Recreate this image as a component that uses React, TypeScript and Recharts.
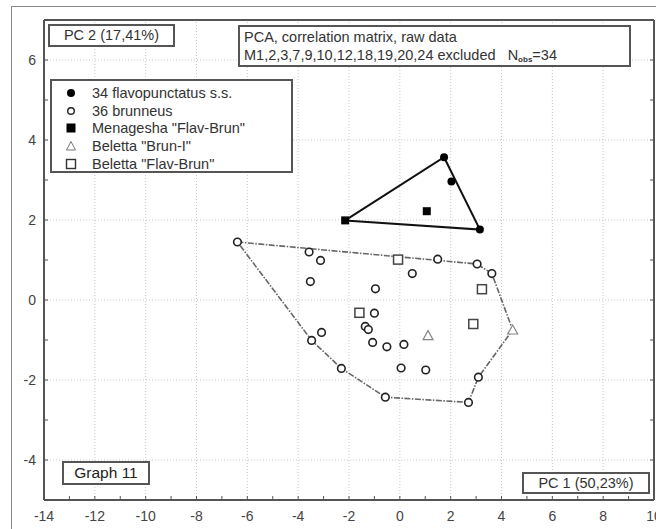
import React from "react";
import { ScatterChart, Scatter, XAxis, YAxis, ReferenceLine } from "recharts";

// PCA scores (PC 1, PC 2)
const flavo = [
  { x: 1.74, y: 3.57 },
  { x: 2.03, y: 2.96 },
  { x: 3.15, y: 1.76 },
];
const menagesha = [
  { x: -2.15, y: 1.99 },
  { x: 1.06, y: 2.22 },
];
const brunneus = [
  { x: -6.39, y: 1.45 },
  { x: -3.57, y: 1.2 },
  { x: -3.12, y: 0.99 },
  { x: -3.52, y: 0.46 },
  { x: -0.96, y: 0.28 },
  { x: 0.49, y: 0.66 },
  { x: 1.49, y: 1.02 },
  { x: 3.04, y: 0.9 },
  { x: 3.62, y: 0.66 },
  { x: -1.0, y: -0.33 },
  { x: -1.36, y: -0.66 },
  { x: -1.24, y: -0.74 },
  { x: -3.08, y: -0.81 },
  { x: -3.47, y: -1.01 },
  { x: -1.07, y: -1.06 },
  { x: -0.51, y: -1.17 },
  { x: 0.16, y: -1.11 },
  { x: -2.3, y: -1.71 },
  { x: 0.05, y: -1.7 },
  { x: 1.02, y: -1.75 },
  { x: 3.09, y: -1.93 },
  { x: -0.57, y: -2.43 },
  { x: 2.7, y: -2.56 },
];
const belettaBrunI = [
  { x: 1.11, y: -0.89 },
  { x: 4.44, y: -0.75 },
];
const belettaFlavBrun = [
  { x: -0.07, y: 1.01 },
  { x: 3.23, y: 0.27 },
  { x: -1.59, y: -0.32 },
  { x: 2.89, y: -0.6 },
];

// hull outlines
const flavoHull = [
  { x: -2.15, y: 1.99 },
  { x: 1.74, y: 3.57 },
  { x: 3.15, y: 1.76 },
  { x: -2.15, y: 1.99 },
];
const brunHull = [
  { x: -6.39, y: 1.45 },
  { x: 3.04, y: 0.9 },
  { x: 3.62, y: 0.66 },
  { x: 4.44, y: -0.75 },
  { x: 3.09, y: -1.93 },
  { x: 2.7, y: -2.56 },
  { x: -0.57, y: -2.43 },
  { x: -2.3, y: -1.71 },
  { x: -3.47, y: -1.01 },
  { x: -6.39, y: 1.45 },
];

const xMajor = [-14, -12, -10, -8, -6, -4, -2, 0, 2, 4, 6, 8, 10];
const yMajor = [-4, -2, 0, 2, 4, 6];
const xAll = [-14, -13, -12, -11, -10, -9, -8, -7, -6, -5, -4, -3, -2, -1, 0, 1, 2, 3, 4, 5, 6, 7, 8, 9, 10];
const yAll = [-5, -4, -3, -2, -1, 0, 1, 2, 3, 4, 5, 6, 7];

const legendItems = [
  { kind: "dot", label: "34 flavopunctatus s.s." },
  { kind: "ring", label: "36 brunneus" },
  { kind: "square", label: 'Menagesha "Flav-Brun"' },
  { kind: "tri", label: 'Beletta "Brun-I"' },
  { kind: "box", label: 'Beletta "Flav-Brun"' },
];

const FONT = '"Liberation Sans", Arial, sans-serif';
const AXIS = "#555";
const tickStyle = { fontSize: 14, fill: "#444", fontFamily: FONT };

const Dot = (p: any) => <circle cx={p.cx} cy={p.cy} r={4} fill="#000" />;
const Ring = (p: any) => <circle cx={p.cx} cy={p.cy} r={3.8} fill="#fff" stroke="#222" strokeWidth={1.6} />;
const Sq = (p: any) => <rect x={p.cx - 4} y={p.cy - 4} width={8} height={8} fill="#000" />;
const Box = (p: any) => <rect x={p.cx - 4.5} y={p.cy - 4.5} width={9} height={9} fill="#fff" stroke="#444" strokeWidth={1.5} />;
const Tri = (p: any) => (
  <polygon
    points={`${p.cx},${p.cy - 5} ${p.cx + 5},${p.cy + 4} ${p.cx - 5},${p.cy + 4}`}
    fill="#fff"
    stroke="#888"
    strokeWidth={1.2}
  />
);
const Nothing = () => <g />;

function LegendSymbol({ kind }: { kind: string }) {
  return (
    <svg width={12} height={12} style={{ display: "block" }}>
      {kind === "dot" && <circle cx={6} cy={6} r={4} fill="#000" />}
      {kind === "ring" && <circle cx={6} cy={6} r={3.3} fill="#fff" stroke="#222" strokeWidth={1.4} />}
      {kind === "square" && <rect x={1.5} y={1.5} width={9} height={9} fill="#000" />}
      {kind === "tri" && <polygon points="6,1.5 10.5,10 1.5,10" fill="#fff" stroke="#777" strokeWidth={1} />}
      {kind === "box" && <rect x={1.5} y={1.5} width={9} height={9} fill="#fff" stroke="#333" strokeWidth={1.4} />}
    </svg>
  );
}

const boxStyle: React.CSSProperties = {
  position: "absolute",
  border: "2px solid #555",
  background: "#fff",
  boxSizing: "border-box",
  fontFamily: FONT,
  color: "#333",
  fontSize: 14.5,
  whiteSpace: "nowrap",
};

export default function App() {
  return (
    <div
      style={{
        position: "fixed",
        left: 0,
        top: 0,
        width: 656,
        height: 529,
        overflow: "hidden",
        background: "#fff",
        fontFamily: FONT,
      }}
    >
      <div
        style={{
          position: "absolute",
          left: 11,
          top: 6,
          width: 700,
          height: 600,
          borderLeft: "1px solid #888",
          borderTop: "1px solid #888",
        }}
      />
      <ScatterChart width={656} height={529} margin={{ top: 19, right: 1, bottom: 0, left: 0 }}>
        <XAxis
          type="number"
          dataKey="x"
          domain={[-14, 10]}
          ticks={xAll}
          interval={0}
          tickFormatter={(v: number) => (v % 2 === 0 ? String(v) : "")}
          tick={tickStyle}
          tickSize={-4}
          tickMargin={15}
          height={29}
          axisLine={{ stroke: AXIS, strokeWidth: 2 }}
          tickLine={{ stroke: AXIS }}
          allowDataOverflow
        />
        <XAxis
          xAxisId="top"
          orientation="top"
          type="number"
          domain={[-14, 10]}
          ticks={xAll}
          interval={0}
          tickFormatter={() => ""}
          tickSize={-4}
          height={1}
          axisLine={{ stroke: AXIS, strokeWidth: 2 }}
          tickLine={{ stroke: AXIS }}
          allowDataOverflow
        />
        <YAxis
          type="number"
          dataKey="y"
          domain={[-5, 7]}
          ticks={yAll}
          interval={0}
          tickFormatter={(v: number) => (v % 2 === 0 ? String(v) : "")}
          tick={tickStyle}
          tickSize={-4}
          tickMargin={12}
          width={44}
          axisLine={{ stroke: AXIS, strokeWidth: 2 }}
          tickLine={{ stroke: AXIS }}
          allowDataOverflow
        />
        <YAxis
          yAxisId="right"
          orientation="right"
          type="number"
          domain={[-5, 7]}
          ticks={yAll}
          interval={0}
          tickFormatter={() => ""}
          tickSize={-4}
          width={1}
          axisLine={{ stroke: AXIS, strokeWidth: 2 }}
          tickLine={{ stroke: AXIS }}
          allowDataOverflow
        />
        {xMajor.slice(1, -1).map((v) => (
          <ReferenceLine key={"gx" + v} x={v} stroke="#c8c8c8" strokeDasharray="1 2" />
        ))}
        {yMajor.map((v) => (
          <ReferenceLine key={"gy" + v} y={v} stroke="#c8c8c8" strokeDasharray="1 2" />
        ))}
        {/* plot frame, top and right */}
        <ReferenceLine y={7} stroke={AXIS} strokeWidth={2} />
        <ReferenceLine x={10} stroke={AXIS} strokeWidth={2} />
        <Scatter
          data={brunHull}
          line={{ stroke: "#666", strokeWidth: 1.6, strokeDasharray: "6 1.5 1.5 1.5" }}
          shape={Nothing}
          isAnimationActive={false}
        />
        <Scatter data={flavoHull} line={{ stroke: "#111", strokeWidth: 2 }} shape={Nothing} isAnimationActive={false} />
        <Scatter data={brunneus} shape={Ring} isAnimationActive={false} />
        <Scatter data={belettaBrunI} shape={Tri} isAnimationActive={false} />
        <Scatter data={belettaFlavBrun} shape={Box} isAnimationActive={false} />
        <Scatter data={menagesha} shape={Sq} isAnimationActive={false} />
        <Scatter data={flavo} shape={Dot} isAnimationActive={false} />
      </ScatterChart>

      <div style={{ ...boxStyle, left: 48, top: 24, width: 127, height: 23, lineHeight: "19px", textAlign: "center" }}>
        PC 2 (17,41%)
      </div>

      <div style={{ ...boxStyle, left: 238, top: 25, width: 393, height: 42, paddingLeft: 4, lineHeight: "18px", paddingTop: 1 }}>
        <div>PCA, correlation matrix, raw data</div>
        <div>
          M1,2,3,7,9,10,12,18,19,20,24 excluded{"\u00a0\u00a0\u00a0"}N
          <sub style={{ fontSize: 8, fontWeight: "bold", verticalAlign: "-2px" }}>obs</sub>=34
        </div>
      </div>

      <div style={{ ...boxStyle, left: 50, top: 79, width: 243, height: 94, paddingTop: 3 }}>
        {legendItems.map((it) => (
          <div key={it.label} style={{ display: "flex", alignItems: "center", height: 17.75 }}>
            <div style={{ width: 12, marginLeft: 13, marginRight: 15 }}>
              <LegendSymbol kind={it.kind} />
            </div>
            <span>{it.label}</span>
          </div>
        ))}
      </div>

      <div style={{ ...boxStyle, left: 62, top: 461, width: 88, height: 24, lineHeight: "20px", textAlign: "center", fontSize: 15.5, color: "#222" }}>
        Graph 11
      </div>

      <div style={{ ...boxStyle, left: 522, top: 472, width: 128, height: 22, lineHeight: "18px", textAlign: "center" }}>
        PC 1 (50,23%)
      </div>
    </div>
  );
}
